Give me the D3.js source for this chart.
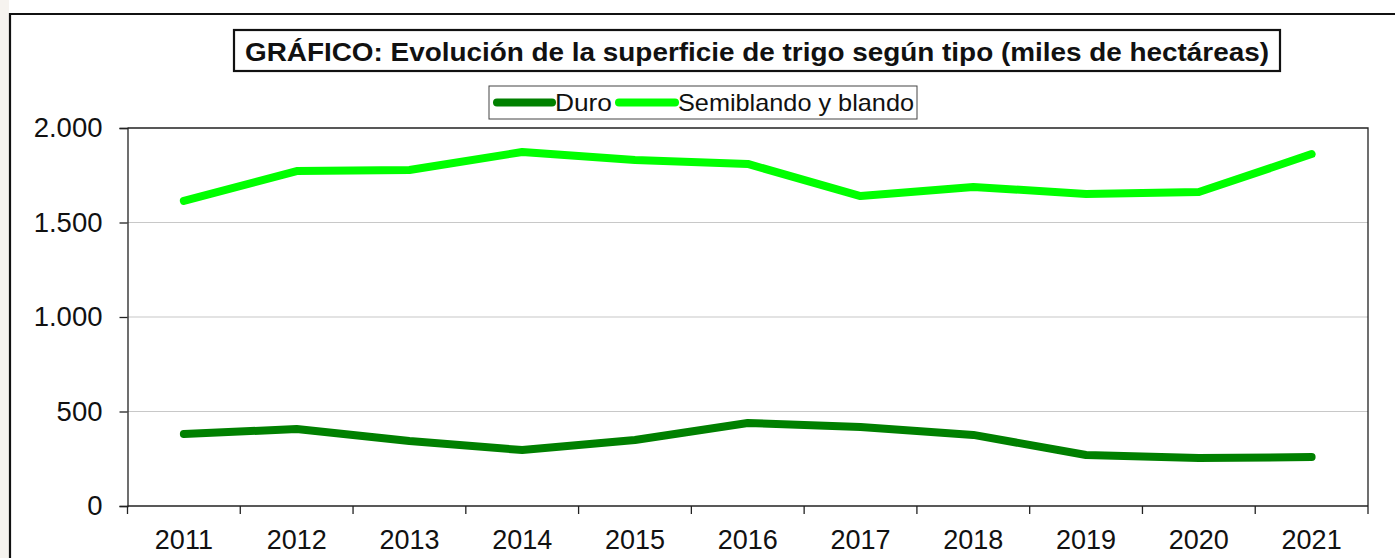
<!DOCTYPE html>
<html lang="es">
<head>
  <meta charset="UTF-8" />
  <title>Superficie de trigo</title>
  <script src="https://d3js.org/d3.v7.min.js"></script>
  <style>
    body { margin: 0; background: #fff; }
    svg { display: block; font-family: "Liberation Sans", Arial, sans-serif; }
  </style>
</head>
<body>
  <div id="chart"></div>
  <script>
    // datos
    const years = ["2011", "2012", "2013", "2014", "2015", "2016", "2017", "2018", "2019", "2020", "2021"];
    const duro = [381, 407, 344, 296, 349, 439, 418, 376, 270, 254, 259];
    const semiblando = [1614, 1772, 1778, 1873, 1831, 1810, 1640, 1688, 1651, 1661, 1862];
    const yTicks = [0, 500, 1000, 1500, 2000];
    const seriesNames = ["Duro", "Semiblando y blando"];
    const seriesColors = ["#008000", "#00ff00"];
    const titleText = "GRÁFICO: Evolución de la superficie de trigo según tipo (miles de hectáreas)";

    const W = 1395, H = 558;
    const plot = { left: 127.5, right: 1368, top: 128, bottom: 506 };

    const svg = d3.select("#chart").append("svg")
      .attr("width", W)
      .attr("height", H);

    // fondo y marco exterior
    svg.append("rect").attr("width", W).attr("height", H).attr("fill", "#fff");
    svg.append("rect").attr("x", 0).attr("y", 0).attr("width", 9).attr("height", H).attr("fill", "#f6f3ef");
    svg.append("path")
      .attr("d", `M10,${H + 5} V14 H${W + 5}`)
      .attr("fill", "none")
      .attr("stroke", "#111")
      .attr("stroke-width", 2.2);

    const es = d3.formatLocale({ decimal: ",", thousands: ".", grouping: [3], currency: ["", " €"] });
    const fmt = es.format(",d");

    const x = d3.scaleBand().domain(years).range([plot.left, plot.right]);
    const y = d3.scaleLinear().domain([0, 2000]).range([plot.bottom, plot.top]);

    // rejilla
    svg.append("g")
      .selectAll("line")
      .data(yTicks.filter(d => d > 0 && d < 2000))
      .enter().append("line")
      .attr("x1", plot.left).attr("x2", plot.right)
      .attr("y1", d => y(d)).attr("y2", d => y(d))
      .attr("stroke", "#c8c8c8")
      .attr("stroke-width", 1.2);

    // borde del area de trazado (arriba y derecha)
    svg.append("path")
      .attr("d", `M${plot.left},${plot.top} H${plot.right} V${plot.bottom}`)
      .attr("fill", "none")
      .attr("stroke", "#222")
      .attr("stroke-width", 1.3);

    // eje Y
    const yAxis = svg.append("g")
      .attr("transform", `translate(${plot.left},0)`)
      .call(d3.axisLeft(y).tickValues(yTicks).tickFormat(fmt).tickSize(8).tickPadding(17));
    yAxis.select(".domain").attr("stroke", "#222").attr("stroke-width", 1.3);
    yAxis.selectAll(".tick line").attr("stroke", "#222").attr("stroke-width", 1.3);
    yAxis.selectAll("text")
      .attr("font-size", 27.5)
      .attr("fill", "#111")
      .attr("font-family", "Liberation Sans, Arial, sans-serif");

    // eje X: etiquetas centradas, marcas entre categorias
    const xAxis = svg.append("g")
      .attr("transform", `translate(0,${plot.bottom})`)
      .call(d3.axisBottom(x).tickSize(0).tickPadding(24));
    xAxis.select(".domain").remove();
    xAxis.selectAll("text")
      .attr("font-size", 27)
      .attr("fill", "#111")
      .attr("font-family", "Liberation Sans, Arial, sans-serif");

    svg.append("line")
      .attr("x1", plot.left).attr("x2", plot.right)
      .attr("y1", plot.bottom).attr("y2", plot.bottom)
      .attr("stroke", "#222").attr("stroke-width", 1.3);

    const edges = years.map(d => x(d)).concat([x(years[years.length - 1]) + x.bandwidth()]);
    svg.append("g")
      .selectAll("line")
      .data(edges)
      .enter().append("line")
      .attr("x1", d => d).attr("x2", d => d)
      .attr("y1", plot.bottom).attr("y2", plot.bottom + 8)
      .attr("stroke", "#222").attr("stroke-width", 1.3);

    // series
    const series = [
      { name: seriesNames[0], color: seriesColors[0], values: duro },
      { name: seriesNames[1], color: seriesColors[1], values: semiblando }
    ];

    const line = d3.line()
      .x((d, i) => x(years[i]) + x.bandwidth() / 2)
      .y(d => y(d));

    svg.append("g")
      .selectAll("path")
      .data(series)
      .enter().append("path")
      .attr("fill", "none")
      .attr("stroke", d => d.color)
      .attr("stroke-width", 8)
      .attr("stroke-linecap", "round")
      .attr("stroke-linejoin", "round")
      .attr("d", d => line(d.values));

    // titulo
    svg.append("rect")
      .attr("x", 234).attr("y", 30).attr("width", 1046).attr("height", 41)
      .attr("fill", "#fff").attr("stroke", "#111").attr("stroke-width", 2.2);
    svg.append("text")
      .attr("x", 757).attr("y", 61)
      .attr("text-anchor", "middle")
      .attr("font-size", 25.5)
      .attr("font-weight", "bold")
      .attr("fill", "#111")
      .attr("textLength", 1024)
      .attr("lengthAdjust", "spacingAndGlyphs")
      .text(titleText);

    // leyenda
    svg.append("rect")
      .attr("x", 489).attr("y", 86).attr("width", 428).attr("height", 33)
      .attr("fill", "#fff").attr("stroke", "#444").attr("stroke-width", 1);

    const legendPos = [
      { x1: 497, x2: 552, tx: 555, tl: 57 },
      { x1: 619, x2: 675, tx: 678, tl: 236 }
    ];
    const leg = svg.append("g").selectAll("g")
      .data(series)
      .enter().append("g");
    leg.append("line")
      .attr("x1", (d, i) => legendPos[i].x1).attr("x2", (d, i) => legendPos[i].x2)
      .attr("y1", 102.5).attr("y2", 102.5)
      .attr("stroke", d => d.color)
      .attr("stroke-width", 8)
      .attr("stroke-linecap", "round");
    leg.append("text")
      .attr("x", (d, i) => legendPos[i].tx)
      .attr("y", 111)
      .attr("font-size", 24)
      .attr("fill", "#111")
      .attr("textLength", (d, i) => legendPos[i].tl)
      .attr("lengthAdjust", "spacingAndGlyphs")
      .text(d => d.name);
  </script>
</body>
</html>
